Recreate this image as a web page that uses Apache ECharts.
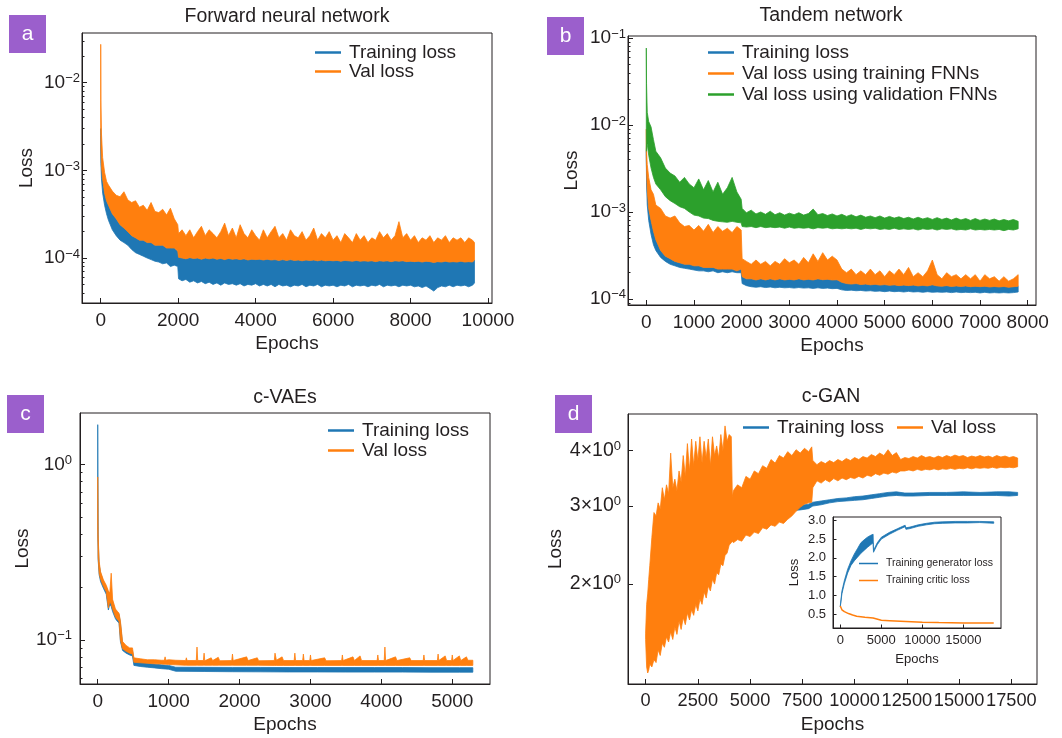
<!DOCTYPE html>
<html>
<head>
<meta charset="utf-8">
<script src="https://cdn.jsdelivr.net/npm/echarts@6/dist/echarts.min.js"></script>
<style>
  html, body { margin: 0; padding: 0; background: #fff; }
  #chart { width: 1062px; height: 738px; }
</style>
</head>
<body>
<div id="chart"></div>
<script>
// ---- panel a: forward neural network ----
const epochsA = [0, 5, 20, 50, 100, 150, 200, 300, 400, 500,
  600, 700, 800, 900, 1000, 1100, 1200, 1300, 1400, 1500,
  1600, 1700, 1800, 1900, 1990, 2010, 2100, 2200, 2300, 2400,
  2500, 2600, 2700, 2800, 2900, 3000, 3100, 3200, 3300, 3400,
  3500, 3600, 3700, 3800, 3900, 4000, 4100, 4200, 4300, 4400,
  4500, 4600, 4700, 4800, 4900, 5000, 5100, 5200, 5300, 5400,
  5500, 5600, 5700, 5800, 5900, 6000, 6100, 6200, 6300, 6400,
  6500, 6600, 6700, 6800, 6900, 7000, 7100, 7200, 7300, 7400,
  7500, 7600, 7700, 7800, 7900, 8000, 8100, 8200, 8300, 8400,
  8500, 8600, 8700, 8800, 8900, 9000, 9100, 9200, 9300, 9400,
  9500, 9600, 9650]
const valHiA = [0.0274, 6.2e-3, 2.6e-3, 1.4e-3, 9.5e-4, 7.5e-4, 6.8e-4, 5.8e-4, 5.2e-4, 5e-4,
  5.7e-4, 4.6e-4, 4.3e-4, 4.5e-4, 3.8e-4, 4e-4, 3.5e-4, 4.3e-4, 3.4e-4, 3.3e-4,
  3.6e-4, 3.1e-4, 3.7e-4, 2.8e-4, 2.4e-4, 1.9e-4, 2.1e-4, 1.8e-4, 2.1e-4, 1.7e-4,
  2e-4, 2.3e-4, 1.8e-4, 2.1e-4, 1.9e-4, 1.7e-4, 2e-4, 2.5e-4, 1.8e-4, 2.2e-4,
  1.7e-4, 2.4e-4, 1.9e-4, 1.7e-4, 2.1e-4, 1.8e-4, 1.6e-4, 2.1e-4, 1.7e-4, 2e-4,
  2.3e-4, 1.7e-4, 1.9e-4, 1.6e-4, 2.1e-4, 1.8e-4, 1.7e-4, 2e-4, 1.6e-4, 1.8e-4,
  2.2e-4, 1.6e-4, 1.9e-4, 1.7e-4, 2e-4, 1.6e-4, 1.8e-4, 1.5e-4, 1.9e-4, 1.7e-4,
  1.5e-4, 1.9e-4, 1.6e-4, 1.8e-4, 1.5e-4, 1.7e-4, 1.6e-4, 2e-4, 1.7e-4, 1.9e-4,
  1.6e-4, 1.8e-4, 2.6e-4, 1.7e-4, 1.9e-4, 1.6e-4, 1.8e-4, 1.5e-4, 1.7e-4, 1.6e-4,
  1.8e-4, 1.5e-4, 1.7e-4, 1.6e-4, 1.8e-4, 1.5e-4, 1.7e-4, 1.6e-4, 1.7e-4, 1.5e-4,
  1.7e-4, 1.6e-4, 1.5e-4]
const valLoA = [3e-3, 1.8e-3, 1.1e-3, 8e-4, 5.5e-4, 4.5e-4, 4e-4, 3.2e-4, 2.8e-4, 2.4e-4,
  2.2e-4, 2e-4, 1.8e-4, 1.7e-4, 1.6e-4, 1.6e-4, 1.5e-4, 1.5e-4, 1.4e-4, 1.4e-4,
  1.4e-4, 1.3e-4, 1.3e-4, 1.3e-4, 1.2e-4, 1.02e-4, 1e-4, 9.8e-5, 1.01e-4, 9.9e-5,
  1e-4, 9.7e-5, 1e-4, 9.8e-5, 1e-4, 9.7e-5, 9.9e-5, 9.6e-5, 9.9e-5, 9.7e-5,
  9.8e-5, 9.6e-5, 9.8e-5, 9.5e-5, 9.7e-5, 9.6e-5, 9.7e-5, 9.5e-5, 9.7e-5, 9.5e-5,
  9.6e-5, 9.4e-5, 9.6e-5, 9.4e-5, 9.6e-5, 9.4e-5, 9.5e-5, 9.3e-5, 9.5e-5, 9.4e-5,
  9.5e-5, 9.3e-5, 9.5e-5, 9.3e-5, 9.4e-5, 9.3e-5, 9.4e-5, 9.2e-5, 9.4e-5, 9.3e-5,
  9.2e-5, 9.4e-5, 9.2e-5, 9.3e-5, 9.2e-5, 9.3e-5, 9.1e-5, 9.3e-5, 9.2e-5, 9.3e-5,
  9.1e-5, 9.3e-5, 9.2e-5, 9.3e-5, 9.1e-5, 9.2e-5, 9.1e-5, 9.2e-5, 9e-5, 9.2e-5,
  9.1e-5, 8.9e-5, 9.1e-5, 9e-5, 9.2e-5, 9e-5, 9.1e-5, 9e-5, 9.2e-5, 9e-5,
  9.1e-5, 9e-5, 9.5e-5]
const trainLoA = [2.5e-3, 1.2e-3, 8e-4, 5.5e-4, 4e-4, 3.2e-4, 2.7e-4, 2.1e-4, 1.8e-4, 1.6e-4,
  1.5e-4, 1.4e-4, 1.25e-4, 1.15e-4, 1.1e-4, 1.05e-4, 1e-4, 9.6e-5, 9.2e-5, 9e-5,
  8.6e-5, 8.8e-5, 8e-5, 8.3e-5, 8e-5, 5.8e-5, 5.5e-5, 5.7e-5, 5.3e-5, 5.5e-5,
  5.2e-5, 5.4e-5, 5.1e-5, 5.3e-5, 5e-5, 5.2e-5, 4.9e-5, 5.2e-5, 5e-5, 5.1e-5,
  4.9e-5, 5.1e-5, 4.8e-5, 5e-5, 4.9e-5, 5.1e-5, 4.8e-5, 5e-5, 4.8e-5, 5e-5,
  4.7e-5, 5e-5, 4.8e-5, 4.9e-5, 4.7e-5, 4.9e-5, 4.8e-5, 5e-5, 4.7e-5, 4.9e-5,
  4.8e-5, 5e-5, 4.7e-5, 4.9e-5, 4.8e-5, 4.9e-5, 4.7e-5, 4.9e-5, 4.8e-5, 5e-5,
  4.7e-5, 4.9e-5, 4.8e-5, 4.9e-5, 4.7e-5, 4.9e-5, 4.8e-5, 5e-5, 4.7e-5, 4.9e-5,
  4.8e-5, 4.9e-5, 4.7e-5, 4.9e-5, 4.8e-5, 4.9e-5, 4.7e-5, 4.8e-5, 4.6e-5, 4.8e-5,
  4.5e-5, 4.2e-5, 4.6e-5, 4.8e-5, 4.7e-5, 4.9e-5, 4.7e-5, 4.9e-5, 4.8e-5, 4.9e-5,
  4.7e-5, 4.9e-5, 5.2e-5]

// ---- panel b: tandem network ----
const epochsB = [0, 5, 20, 50, 100, 150, 200, 300, 400, 500,
  600, 700, 800, 900, 1000, 1100, 1200, 1300, 1400, 1500,
  1600, 1700, 1800, 1900, 1990, 2010, 2100, 2200, 2300, 2400,
  2500, 2600, 2700, 2800, 2900, 3000, 3100, 3200, 3300, 3400,
  3500, 3600, 3700, 3800, 3900, 4000, 4100, 4200, 4300, 4400,
  4500, 4600, 4700, 4800, 4900, 5000, 5100, 5200, 5300, 5400,
  5500, 5600, 5700, 5800, 5900, 6000, 6100, 6200, 6300, 6400,
  6500, 6600, 6700, 6800, 6900, 7000, 7100, 7200, 7300, 7400,
  7500, 7600, 7700, 7800]
const greenHiB = [0.077, 0.03, 0.014, 0.011, 9.5e-3, 6.8e-3, 5e-3, 4.2e-3, 3.2e-3, 2.8e-3,
  2.6e-3, 2.2e-3, 2.5e-3, 2.1e-3, 1.9e-3, 2.4e-3, 1.8e-3, 2.3e-3, 1.7e-3, 2.2e-3,
  1.6e-3, 1.9e-3, 2.5e-3, 1.7e-3, 1.4e-3, 1.1e-3, 9.8e-4, 1.05e-3, 9.5e-4, 1e-3,
  9.4e-4, 1.02e-3, 9.3e-4, 9.8e-4, 9.2e-4, 9.7e-4, 9.3e-4, 9.8e-4, 9.2e-4, 9.6e-4,
  1.08e-3, 9.3e-4, 9.6e-4, 9.1e-4, 9.5e-4, 9e-4, 9.4e-4, 8.9e-4, 9.3e-4, 8.8e-4,
  9.2e-4, 8.7e-4, 9e-4, 8.6e-4, 9e-4, 8.5e-4, 8.9e-4, 8.5e-4, 8.8e-4, 8.4e-4,
  8.7e-4, 8.3e-4, 8.7e-4, 8.3e-4, 8.6e-4, 8.2e-4, 8.6e-4, 8.2e-4, 8.5e-4, 8.1e-4,
  8.5e-4, 8.1e-4, 8.4e-4, 8e-4, 8.4e-4, 8e-4, 8.3e-4, 8e-4, 8.3e-4, 7.9e-4,
  8.2e-4, 7.9e-4, 8.2e-4, 7.8e-4]
const greenLoB = [5e-3, 6e-3, 6e-3, 4.5e-3, 3.2e-3, 2.5e-3, 2.1e-3, 1.8e-3, 1.5e-3, 1.35e-3,
  1.25e-3, 1.15e-3, 1.1e-3, 1e-3, 9.2e-4, 9e-4, 8.5e-4, 8.4e-4, 8e-4, 7.8e-4,
  7.7e-4, 7.6e-4, 7.8e-4, 7.6e-4, 7.5e-4, 6.8e-4, 6.7e-4, 6.8e-4, 6.6e-4, 6.8e-4,
  6.6e-4, 6.7e-4, 6.6e-4, 6.7e-4, 6.5e-4, 6.7e-4, 6.5e-4, 6.6e-4, 6.5e-4, 6.6e-4,
  6.4e-4, 6.6e-4, 6.5e-4, 6.6e-4, 6.4e-4, 6.5e-4, 6.4e-4, 6.5e-4, 6.4e-4, 6.5e-4,
  6.3e-4, 6.5e-4, 6.4e-4, 6.5e-4, 6.3e-4, 6.4e-4, 6.3e-4, 6.5e-4, 6.3e-4, 6.4e-4,
  6.3e-4, 6.4e-4, 6.2e-4, 6.4e-4, 6.3e-4, 6.4e-4, 6.2e-4, 6.4e-4, 6.3e-4, 6.4e-4,
  6.2e-4, 6.3e-4, 6.2e-4, 6.4e-4, 6.2e-4, 6.3e-4, 6.2e-4, 6.3e-4, 6.2e-4, 6.3e-4,
  6.1e-4, 6.3e-4, 6.2e-4, 6.4e-4]
const orangeHiB = [9e-3, 5e-3, 3.5e-3, 2.5e-3, 1.8e-3, 1.6e-3, 1.2e-3, 1.1e-3, 9e-4, 8.5e-4,
  9e-4, 7.5e-4, 6.8e-4, 7e-4, 6.2e-4, 7e-4, 6e-4, 7.2e-4, 5.8e-4, 6.8e-4,
  6e-4, 6.5e-4, 5.8e-4, 6.8e-4, 6.2e-4, 2.9e-4, 2.7e-4, 2.5e-4, 2.8e-4, 2.5e-4,
  2.7e-4, 2.4e-4, 2.7e-4, 2.5e-4, 2.9e-4, 2.6e-4, 2.8e-4, 2.5e-4, 3e-4, 2.6e-4,
  3.3e-4, 2.7e-4, 3.4e-4, 2.8e-4, 3.1e-4, 2.8e-4, 2.2e-4, 2e-4, 2.2e-4, 1.9e-4,
  2.1e-4, 1.9e-4, 2.2e-4, 1.9e-4, 2.1e-4, 1.8e-4, 2.1e-4, 1.9e-4, 2.2e-4, 1.9e-4,
  2.3e-4, 1.8e-4, 2e-4, 1.8e-4, 2.1e-4, 2.8e-4, 1.9e-4, 1.7e-4, 2e-4, 1.8e-4,
  1.9e-4, 1.7e-4, 1.9e-4, 1.7e-4, 1.9e-4, 1.6e-4, 1.9e-4, 1.7e-4, 1.8e-4, 1.6e-4,
  1.8e-4, 1.6e-4, 1.7e-4, 1.9e-4]
const orangeLoB = [5e-3, 3e-3, 1.8e-3, 1.1e-3, 8e-4, 6e-4, 4.8e-4, 3.6e-4, 3.1e-4, 2.9e-4,
  2.7e-4, 2.6e-4, 2.5e-4, 2.5e-4, 2.4e-4, 2.4e-4, 2.3e-4, 2.3e-4, 2.3e-4, 2.2e-4,
  2.2e-4, 2.2e-4, 2.2e-4, 2.1e-4, 2.2e-4, 1.8e-4, 1.7e-4, 1.7e-4, 1.65e-4, 1.7e-4,
  1.65e-4, 1.7e-4, 1.65e-4, 1.7e-4, 1.65e-4, 1.68e-4, 1.65e-4, 1.7e-4, 1.65e-4, 1.68e-4,
  1.65e-4, 1.7e-4, 1.66e-4, 1.68e-4, 1.65e-4, 1.66e-4, 1.55e-4, 1.5e-4, 1.48e-4, 1.5e-4,
  1.46e-4, 1.48e-4, 1.45e-4, 1.47e-4, 1.44e-4, 1.46e-4, 1.43e-4, 1.45e-4, 1.42e-4, 1.44e-4,
  1.42e-4, 1.44e-4, 1.41e-4, 1.43e-4, 1.41e-4, 1.45e-4, 1.41e-4, 1.4e-4, 1.42e-4, 1.39e-4,
  1.41e-4, 1.39e-4, 1.41e-4, 1.38e-4, 1.4e-4, 1.38e-4, 1.4e-4, 1.37e-4, 1.39e-4, 1.37e-4,
  1.39e-4, 1.36e-4, 1.38e-4, 1.4e-4]
const trainLoB = [4e-3, 2.2e-3, 1.2e-3, 8e-4, 5.5e-4, 4.2e-4, 3.6e-4, 3e-4, 2.7e-4, 2.5e-4,
  2.4e-4, 2.3e-4, 2.25e-4, 2.2e-4, 2.15e-4, 2.1e-4, 2.1e-4, 2.05e-4, 2.1e-4, 2e-4,
  2.05e-4, 2e-4, 2.05e-4, 2e-4, 2e-4, 1.5e-4, 1.42e-4, 1.38e-4, 1.36e-4, 1.38e-4,
  1.35e-4, 1.37e-4, 1.34e-4, 1.36e-4, 1.34e-4, 1.35e-4, 1.33e-4, 1.35e-4, 1.33e-4, 1.34e-4,
  1.32e-4, 1.34e-4, 1.32e-4, 1.33e-4, 1.31e-4, 1.32e-4, 1.27e-4, 1.25e-4, 1.26e-4, 1.24e-4,
  1.25e-4, 1.23e-4, 1.24e-4, 1.22e-4, 1.23e-4, 1.21e-4, 1.23e-4, 1.21e-4, 1.22e-4, 1.2e-4,
  1.22e-4, 1.2e-4, 1.21e-4, 1.19e-4, 1.21e-4, 1.19e-4, 1.2e-4, 1.19e-4, 1.2e-4, 1.18e-4,
  1.2e-4, 1.18e-4, 1.19e-4, 1.18e-4, 1.19e-4, 1.17e-4, 1.19e-4, 1.17e-4, 1.18e-4, 1.17e-4,
  1.18e-4, 1.17e-4, 1.18e-4, 1.2e-4]

// ---- panel c: c-VAEs ----
const epochsTrainC = [0, 5, 20, 40, 80, 120, 150, 170, 190, 210,
  250, 280, 300, 320, 350, 400, 450, 490, 510, 600,
  700, 800, 900, 1000, 1100, 1500, 1900, 2300, 2700, 3100,
  3500, 3900, 4300, 4700, 5100, 5290]
const trainLoC = [0.8, 0.29, 0.235, 0.215, 0.197, 0.182, 0.148, 0.16, 0.155, 0.145,
  0.132, 0.127, 0.125, 0.098, 0.087, 0.084, 0.082, 0.081, 0.0715, 0.0705,
  0.0698, 0.0692, 0.0685, 0.068, 0.0662, 0.066, 0.0658, 0.0657, 0.0656, 0.0656,
  0.0655, 0.0655, 0.0655, 0.0654, 0.0654, 0.0654]
const trainHiC = [1.69, 0.38, 0.27, 0.24, 0.215, 0.2, 0.185, 0.18, 0.175, 0.165,
  0.145, 0.14, 0.14, 0.125, 0.095, 0.09, 0.088, 0.087, 0.076, 0.0745,
  0.0735, 0.0728, 0.072, 0.0715, 0.0698, 0.0697, 0.0696, 0.0696, 0.0695, 0.0695,
  0.0695, 0.0695, 0.0695, 0.0694, 0.0694, 0.0694]
const epochsValC = [0, 5, 20, 40, 80, 120, 150, 170, 190, 210,
  250, 280, 300, 320, 350, 400, 450, 490, 510, 600,
  700, 800, 900, 940, 950, 960, 1000, 1100,
  1240, 1250, 1260, 1390, 1400, 1410, 1490, 1500, 1510, 1600,
  1620, 1700, 1720, 1890, 1900, 1910, 2100, 2120, 2250, 2270,
  2490, 2500, 2520, 2600, 2620, 2770, 2780, 2790, 2890, 2900,
  2910, 2990, 3000, 3010, 3200, 3220, 3440, 3450, 3460, 3600,
  3620, 3700, 3720, 3940, 3950, 3960, 4040, 4050, 4060, 4200,
  4220, 4400, 4420, 4590, 4600, 4610, 4790, 4800, 4810, 4900,
  4920, 4990, 5000, 5010, 5100, 5120, 5200, 5220, 5290]
const valHiC = [0.85, 0.4, 0.28, 0.245, 0.22, 0.205, 0.19, 0.185, 0.24, 0.17,
  0.15, 0.145, 0.142, 0.128, 0.098, 0.093, 0.09, 0.09, 0.079, 0.078,
  0.077, 0.077, 0.0765, 0.0765, 0.08, 0.0765, 0.077, 0.0765,
  0.0762, 0.079, 0.0762, 0.0763, 0.091, 0.0763, 0.0762, 0.084, 0.076, 0.079,
  0.0762, 0.0795, 0.076, 0.0762, 0.083, 0.0762, 0.08, 0.0762, 0.079, 0.076,
  0.0762, 0.084, 0.0765, 0.08, 0.0762, 0.0762, 0.084, 0.0762, 0.0762, 0.083,
  0.0762, 0.0762, 0.082, 0.0762, 0.079, 0.076, 0.0762, 0.082, 0.0762, 0.08,
  0.0762, 0.081, 0.0762, 0.0762, 0.082, 0.0762, 0.0762, 0.091, 0.0762, 0.08,
  0.0762, 0.079, 0.0762, 0.0762, 0.082, 0.0762, 0.0762, 0.083, 0.0762, 0.081,
  0.0762, 0.0762, 0.082, 0.0762, 0.081, 0.0762, 0.08, 0.0765, 0.0765]
const valLoC = [0.45, 0.3, 0.24, 0.222, 0.202, 0.188, 0.152, 0.165, 0.16, 0.15,
  0.135, 0.13, 0.128, 0.1, 0.089, 0.086, 0.084, 0.083, 0.0745, 0.074,
  0.0735, 0.073, 0.0728, 0.0726, 0.0726, 0.0726, 0.0724, 0.072,
  0.0716, 0.0716, 0.0716, 0.0716, 0.0716, 0.0716, 0.0716, 0.0716, 0.0716, 0.0716,
  0.0716, 0.0716, 0.0716, 0.0716, 0.0716, 0.0716, 0.0716, 0.0716, 0.0716, 0.0716,
  0.0715, 0.0715, 0.0715, 0.0715, 0.0715, 0.0715, 0.0715, 0.0715, 0.0715, 0.0715,
  0.0715, 0.0715, 0.0715, 0.0715, 0.0715, 0.0715, 0.0715, 0.0715, 0.0715, 0.0715,
  0.0715, 0.0715, 0.0715, 0.0715, 0.0715, 0.0715, 0.0715, 0.0715, 0.0715, 0.0715,
  0.0715, 0.0715, 0.0715, 0.0715, 0.0715, 0.0715, 0.0715, 0.0715, 0.0715, 0.0715,
  0.0715, 0.0715, 0.0715, 0.0715, 0.0715, 0.0715, 0.0715, 0.0715, 0.0715]

// ---- panel d: c-GAN ----
const epochsValD = [0, 50, 100, 150, 200, 300, 400, 500, 600, 700,
  800, 900, 1000, 1100, 1200, 1300, 1400, 1500, 1600, 1700,
  1800, 1900, 2000, 2100, 2200, 2300, 2400, 2500, 2600, 2700,
  2800, 2900, 3000, 3100, 3200, 3300, 3400, 3500, 3600, 3700,
  3800, 3900, 4000, 4100, 4150, 4200, 4400, 4600, 4800, 5000,
  5200, 5400, 5600, 5800, 6000, 6200, 6400, 6600, 6800, 7000,
  7200, 7400, 7600, 7800, 7950, 8000, 8200, 8400, 8600, 8800,
  9000, 9200, 9400, 9600, 9800, 10000, 10200, 10400, 10600, 10800,
  11000, 11200, 11400, 11600, 11800, 12000, 12200, 12400, 12600, 12800,
  13000, 13200, 13400, 13600, 13800, 14000, 14200, 14400, 14600, 14800,
  15000, 15200, 15400, 15600, 15800, 16000, 16200, 16400, 16600, 16800,
  17000, 17200, 17400, 17600, 17800]
const valHiD = [1.55, 1.8, 1.9, 2.05, 2.2, 2.55, 2.9, 2.85, 3.05, 2.95,
  3.3, 3.1, 3.35, 3.2, 3.95, 3.3, 3.45, 3.25, 3.6, 3.4,
  3.9, 3.5, 4.15, 3.6, 4.25, 3.7, 4.2, 3.8, 4.3, 3.75,
  4.2, 3.85, 4.25, 3.7, 4.3, 3.9, 4.1, 3.85, 4.35, 4.0,
  4.55, 4.2, 4.35, 4.3, 3.15, 3.25, 3.35, 3.3, 3.5, 3.45,
  3.6, 3.55, 3.7, 3.65, 3.82, 3.75, 3.9, 3.85, 3.98, 3.9,
  4.02, 3.95, 4.05, 3.98, 4.08, 3.8, 3.72, 3.78, 3.74, 3.8,
  3.76, 3.82, 3.78, 3.84, 3.8, 3.86, 3.82, 3.88, 3.85, 3.92,
  3.88, 3.95, 3.9, 4.02, 3.9, 3.96, 3.82, 3.86, 3.84, 3.88,
  3.85, 3.9, 3.86, 3.88, 3.85, 3.89, 3.86, 3.9, 3.87, 3.91,
  3.88, 3.9, 3.86, 3.89, 3.87, 3.9, 3.87, 3.89, 3.86, 3.9,
  3.87, 3.89, 3.86, 3.88, 3.85]
const valLoD = [1.5, 1.3, 1.26, 1.28, 1.32, 1.3, 1.35, 1.33, 1.42, 1.38,
  1.47, 1.44, 1.52, 1.48, 1.56, 1.5, 1.6, 1.54, 1.65, 1.58,
  1.68, 1.62, 1.72, 1.66, 1.75, 1.7, 1.8, 1.74, 1.85, 1.8,
  1.92, 1.86, 1.98, 1.93, 2.05, 2.0, 2.12, 2.1, 2.22, 2.2,
  2.32, 2.35, 2.45, 2.48, 2.5, 2.48, 2.52, 2.5, 2.58, 2.56,
  2.62, 2.6, 2.68, 2.66, 2.72, 2.7, 2.76, 2.74, 2.8, 2.85,
  2.92, 2.98, 3.03, 3.05, 3.06, 3.3, 3.42, 3.38, 3.44, 3.4,
  3.46, 3.42, 3.47, 3.44, 3.48, 3.46, 3.5, 3.47, 3.52, 3.5,
  3.55, 3.52, 3.56, 3.54, 3.58, 3.56, 3.6, 3.6, 3.62, 3.6,
  3.63, 3.61, 3.63, 3.62, 3.64, 3.62, 3.64, 3.63, 3.65, 3.63,
  3.65, 3.64, 3.66, 3.64, 3.66, 3.65, 3.66, 3.65, 3.67, 3.65,
  3.67, 3.66, 3.67, 3.66, 3.68]
const epochsTrainD = [6600, 7000, 7400, 7800, 8000, 8400, 8800, 9200, 9600, 10000,
  10400, 10800, 11200, 11600, 12000, 12400, 12800, 13600, 14400, 15200,
  16000, 16800, 17400, 17800]
const trainLoD = [2.92, 2.93, 2.94, 2.96, 3.0, 3.02, 3.05, 3.07, 3.08, 3.09,
  3.1, 3.12, 3.14, 3.16, 3.17, 3.16, 3.16, 3.17, 3.17, 3.17,
  3.17, 3.17, 3.16, 3.17]
const trainHiD = [2.98, 2.99, 3.01, 3.03, 3.06, 3.08, 3.1, 3.12, 3.13, 3.15,
  3.16, 3.18, 3.2, 3.22, 3.23, 3.21, 3.21, 3.22, 3.22, 3.23,
  3.22, 3.23, 3.23, 3.22]

// ---- inset of d ----
const epochsGen = [0, 200, 500, 900, 1300, 1700, 2100, 2500, 2900, 3300,
  3700, 4000, 4050, 4500, 5000, 6000, 7000, 7900, 8000, 8500,
  9500, 10500, 11500, 12500, 14000, 15500, 17000, 18700]
const genLo = [0.7, 1.05, 1.32, 1.6, 1.8, 1.92, 2.02, 2.12, 2.2, 2.28,
  2.35, 2.4, 2.15, 2.35, 2.5, 2.63, 2.74, 2.83, 2.76, 2.78,
  2.84, 2.88, 2.91, 2.92, 2.93, 2.93, 2.94, 2.92]
const genHi = [0.72, 1.12, 1.4, 1.7, 1.92, 2.1, 2.25, 2.4, 2.48, 2.55,
  2.6, 2.63, 2.2, 2.4, 2.55, 2.68, 2.78, 2.87, 2.8, 2.82,
  2.88, 2.92, 2.95, 2.96, 2.97, 2.97, 2.97, 2.96]
const epochsCritic = [0, 200, 500, 1000, 1500, 2000, 3000, 4000, 4100, 5000,
  6000, 8000, 10000, 12000, 15000, 18700]
const criticLoss = [0.72, 0.62, 0.57, 0.52, 0.48, 0.45, 0.42, 0.4, 0.36, 0.34,
  0.33, 0.31, 0.29, 0.28, 0.27, 0.27]

const FONT = '"Liberation Sans", Arial, sans-serif'
const INK = '#231f20'
const BLUE = '#1f77b4'
const ORANGE = '#ff7f0e'
const GREEN = '#2ca02c'
const PURPLE = '#9b5fcc'

// filled band between a lower and an upper curve, positioned by the axes
function band(name, xi, yi, ep, lo, hi, color, z) {
    return {
        name,
        type: 'custom',
        xAxisIndex: xi,
        yAxisIndex: yi,
        z: z || 2,
        clip: true,
        silent: true,
        itemStyle: { color },
        data: ep.map((e, i) => [e, lo[i], hi[i]]),
        encode: { x: 0, y: [1, 2] },
        renderItem(params, api) {
            if (params.dataIndex !== 0) return null
            const top = ep.map((e, i) => api.coord([e, hi[i]]))
            const bottom = ep.map((e, i) => api.coord([e, lo[i]])).reverse()
            return {
                type: 'polygon',
                shape: { points: top.concat(bottom) },
                style: { fill: color, stroke: color, lineWidth: 0.8 },
            }
        },
    }
}

function powTicks(min, max, mult) {
    const out = []
    for (let k = -6; k <= 1; k += 1) {
        mult.forEach((m) => {
            const v = m * Math.pow(10, k)
            if (v >= min && v <= max) out.push(v)
        })
    }
    return out
}

function supRich(big, small) {
    return {
        b: { fontSize: big, fontFamily: FONT, color: INK, lineHeight: big + 2 },
        s: { fontSize: small, fontFamily: FONT, color: INK, lineHeight: small, verticalAlign: 'top' },
    }
}

function decadeLabel(v) {
    const e = Math.round(Math.log10(v))
    return `{b|10}{s|${e < 0 ? '\u2212' + (-e) : e}}`
}

function logYAxes(gi, min, max, majors, margin, nameGap) {
    return [
        {
            type: 'log', gridIndex: gi, min, max, position: 'left',
            name: 'Loss', nameLocation: 'middle', nameGap,
            nameTextStyle: { fontSize: 19, fontFamily: FONT, color: INK },
            axisLine: { show: true, onZero: false, lineStyle: { color: INK, width: 1 } },
            axisTick: { inside: true, length: 5, customValues: majors, lineStyle: { color: INK } },
            axisLabel: { customValues: majors, margin, formatter: decadeLabel, rich: supRich(19, 13), color: INK, showMinLabel: true, showMaxLabel: true },
            splitLine: { show: false },
        },
        {
            type: 'log', gridIndex: gi, min, max, position: 'left',
            axisLine: { show: false, onZero: false },
            axisTick: { inside: true, length: 2.5, customValues: powTicks(min, max, [2, 3, 4, 5, 6, 7, 8, 9]), lineStyle: { color: INK } },
            axisLabel: { show: false },
            splitLine: { show: false },
        },
    ]
}

function epochAxis(gi, min, max, ticks, fontSize) {
    return {
        type: 'value', gridIndex: gi, min, max,
        name: 'Epochs', nameLocation: 'middle', nameGap: 31,
        nameTextStyle: { fontSize: 19, fontFamily: FONT, color: INK },
        axisLine: { show: true, onZero: false, lineStyle: { color: INK, width: 1 } },
        axisTick: { inside: true, length: 5, customValues: ticks, lineStyle: { color: INK } },
        axisLabel: {
            customValues: ticks, margin: 8, fontSize: fontSize || 19, fontFamily: FONT, color: INK,
            showMinLabel: true, showMaxLabel: true, hideOverlap: false,
            formatter: (v) => String(v),
        },
        splitLine: { show: false },
    }
}

const gridBase = { show: true, borderColor: INK, borderWidth: 1, backgroundColor: 'transparent', outerBoundsMode: 'none' }

const legendBase = {
    orient: 'vertical', icon: 'rect', itemWidth: 26, itemHeight: 2.5, padding: 0,
    selectedMode: false,
    textStyle: { fontSize: 19, fontFamily: FONT, color: INK, lineHeight: 19, padding: [0, 0, 0, 3] },
}

function title(text, x, y) {
    return { type: 'text', x, y, style: { text, font: `19.5px ${FONT}`, fill: INK, align: 'center', verticalAlign: 'middle', textAlign: 'center', textVerticalAlign: 'middle' } }
}
function tag(letter, x, y) {
    return [
        { type: 'rect', shape: { x, y, width: 37, height: 38 }, style: { fill: PURPLE } },
        { type: 'text', x: x + 18.5, y: y + 19, style: { text: letter, font: `21px ${FONT}`, fill: '#fff', align: 'center', verticalAlign: 'middle', textAlign: 'center', textVerticalAlign: 'middle' } },
    ]
}

const chart = echarts.init(document.getElementById('chart'), null, { renderer: 'canvas' })

chart.setOption({
    animation: false,
    backgroundColor: '#fff',
    textStyle: { fontFamily: FONT },
    grid: [
        Object.assign({ left: 82, top: 33, width: 410, height: 270 }, gridBase),
        Object.assign({ left: 628, top: 36, width: 408, height: 269 }, gridBase),
        Object.assign({ left: 80, top: 413, width: 410, height: 271 }, gridBase),
        Object.assign({ left: 628, top: 414, width: 409, height: 270 }, gridBase),
        Object.assign({ left: 833, top: 517, width: 168, height: 111 }, gridBase, { backgroundColor: '#fff', z: 10 }),
    ],
    xAxis: [
        epochAxis(0, -483, 10103, [0, 2000, 4000, 6000, 8000, 10000]),
        epochAxis(1, -384, 8174, [0, 1000, 2000, 3000, 4000, 5000, 6000, 7000, 8000]),
        epochAxis(2, -250, 5532, [0, 1000, 2000, 3000, 4000, 5000]),
        epochAxis(3, -842, 18727, [0, 2500, 5000, 7500, 10000, 12500, 15000, 17500], 18.2),
        {
            type: 'value', gridIndex: 4, min: -888, max: 19586, z: 12,
            name: 'Epochs', nameLocation: 'middle', nameGap: 25,
            nameTextStyle: { fontSize: 13, fontFamily: FONT, color: INK },
            axisLine: { show: true, onZero: false, lineStyle: { color: INK } },
            axisTick: { inside: true, length: 3.5, customValues: [0, 5000, 10000, 15000], lineStyle: { color: INK } },
            axisLabel: { customValues: [0, 5000, 10000, 15000], margin: 6, fontSize: 13, fontFamily: FONT, color: INK, showMaxLabel: true, formatter: (v) => String(v) },
            splitLine: { show: false },
        },
    ],
    yAxis: [
        ...logYAxes(0, 3.07e-5, 0.0369, [1e-4, 1e-3, 1e-2], 2, 46),
        ...logYAxes(1, 8.5e-5, 0.106, [1e-4, 1e-3, 1e-2, 1e-1], 2, 47),
        ...logYAxes(2, 0.056, 1.97, [1e-1, 1], 8, 48),
        {
            type: 'log', gridIndex: 3, min: 1.19, max: 4.84, position: 'left',
            name: 'Loss', nameLocation: 'middle', nameGap: 63,
            nameTextStyle: { fontSize: 19, fontFamily: FONT, color: INK },
            axisLine: { show: true, onZero: false, lineStyle: { color: INK } },
            axisTick: { inside: true, length: 5, customValues: [2, 3, 4], lineStyle: { color: INK } },
            axisLabel: { customValues: [2, 3, 4], margin: 7, rich: supRich(19.5, 13), showMaxLabel: true, formatter: (v) => `{b|${Math.round(v)}\u00d710}{s|0}` },
            splitLine: { show: false },
        },
        { type: 'value', gridIndex: 3, min: 0, max: 1, show: false },
        {
            type: 'value', gridIndex: 4, min: 0.136, max: 3.088, z: 12,
            name: 'Loss', nameLocation: 'middle', nameGap: 32,
            nameTextStyle: { fontSize: 13, fontFamily: FONT, color: INK },
            axisLine: { show: true, onZero: false, lineStyle: { color: INK } },
            axisTick: { inside: true, length: 3.5, customValues: [0.5, 1, 1.5, 2, 2.5, 3], lineStyle: { color: INK } },
            axisLabel: { customValues: [0.5, 1, 1.5, 2, 2.5, 3], margin: 7, fontSize: 13, fontFamily: FONT, color: INK, showMaxLabel: true, formatter: (v) => v.toFixed(1) },
            splitLine: { show: false },
        },
    ],
    legend: [
        Object.assign({}, legendBase, { data: ['Training loss', 'Val loss'], left: 315, top: 43, itemGap: 0 }),
        Object.assign({}, legendBase, { data: ['Training loss', 'Val loss using training FNNs', 'Val loss using validation FNNs'], left: 708, top: 43, itemGap: 2 }),
        Object.assign({}, legendBase, { data: ['Training loss', 'Val loss'], left: 328, top: 421, itemGap: 1 }),
        Object.assign({}, legendBase, { data: ['Training loss', 'Val loss'], orient: 'horizontal', left: 743, top: 418, itemGap: 13 }),
        Object.assign({}, legendBase, {
            data: ['Training generator loss', 'Training critic loss'], left: 859, top: 558, itemGap: 6,
            itemWidth: 19, itemHeight: 1.5, z: 12,
            textStyle: { fontSize: 10.5, fontFamily: FONT, color: INK, lineHeight: 11, padding: [0, 0, 0, 3] },
        }),
    ],
    graphic: [
        title('Forward neural network', 287, 17),
        title('Tandem network', 831, 16),
        title('c-VAEs', 285, 398),
        title('c-GAN', 831, 397),
        ...tag('a', 9, 15),
        ...tag('b', 547, 17),
        ...tag('c', 7, 395),
        ...tag('d', 555, 395),
    ],
    series: [
        band('Training loss', 0, 0, epochsA, trainLoA, valLoA, BLUE),
        band('Val loss', 0, 0, epochsA, valLoA, valHiA, ORANGE),

        band('Training loss', 1, 2, epochsB, trainLoB, orangeLoB, BLUE),
        band('Val loss using training FNNs', 1, 2, epochsB, orangeLoB, orangeHiB, ORANGE),
        band('Val loss using validation FNNs', 1, 2, epochsB, greenLoB, greenHiB, GREEN),

        band('Training loss', 2, 4, epochsTrainC, trainLoC, trainHiC, BLUE),
        band('Val loss', 2, 4, epochsValC, valLoC, valHiC, ORANGE),

        band('Training loss', 3, 6, epochsTrainD, trainLoD, trainHiD, BLUE),
        band('Val loss', 3, 6, epochsValD, valLoD, valHiD, ORANGE),

        band('Training generator loss', 4, 8, epochsGen, genLo, genHi, BLUE, 11),
        {
            name: 'Training critic loss', type: 'line', xAxisIndex: 4, yAxisIndex: 8, z: 11,
            symbol: 'none', silent: true,
            lineStyle: { color: ORANGE, width: 1.5 }, itemStyle: { color: ORANGE },
            data: epochsCritic.map((e, i) => [e, criticLoss[i]]),
        },
    ],
})
</script>
</body>
</html>
